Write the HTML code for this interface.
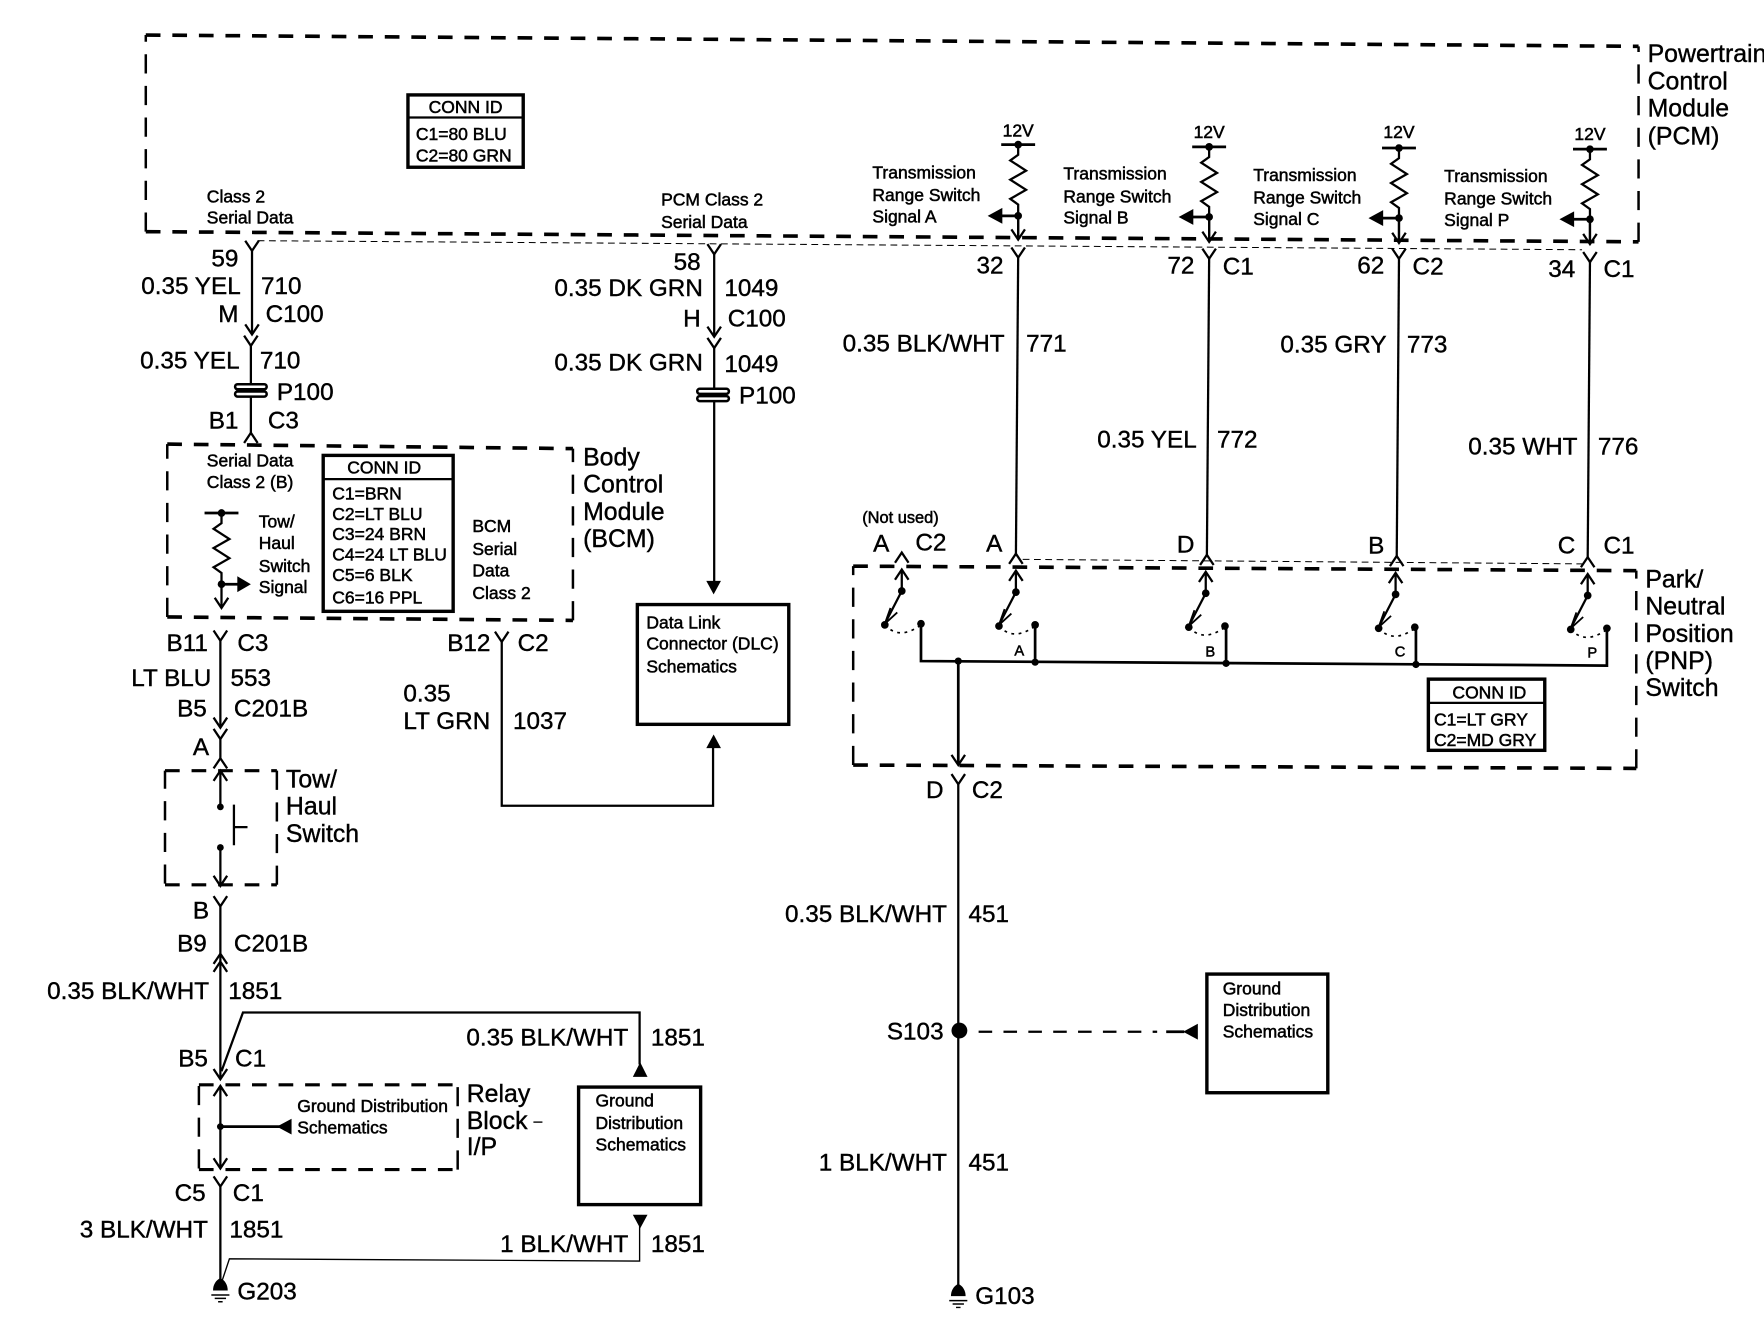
<!DOCTYPE html>
<html>
<head>
<meta charset="utf-8">
<style>
html,body{margin:0;padding:0;background:#fff;width:1764px;height:1328px;overflow:hidden}
svg{display:block}
text{font-family:"Liberation Sans",Arial,sans-serif;fill:#000;stroke:#000;stroke-width:.35}
.t{font-size:21.5px}
.e{font-size:21.5px;text-anchor:end}
.n{font-size:22px}
.s{font-size:15.5px;stroke-width:.45}
.m{font-size:15.5px;stroke-width:.45;text-anchor:middle}
.w{fill:none;stroke:#000;stroke-width:2}
.d{fill:none;stroke:#000;stroke-width:3.2;stroke-dasharray:13 10.5}
.dv{fill:none;stroke:#000;stroke-width:2.2;stroke-dasharray:17 11}
.th{fill:none;stroke:#000;stroke-width:.9;stroke-dasharray:6 4}
.b{fill:#fff;stroke:#000;stroke-width:3}
.k{fill:#000;stroke:none}
.sw{fill:none;stroke:#000;stroke-width:1.5;stroke-dasharray:2.5 4}
</style>
</head>
<body>
<svg width="1764" height="1328" viewBox="0 0 1561 1175.2" xmlns="http://www.w3.org/2000/svg">
<defs>
<path id="v" d="M-6 -9L0 0L6 -9" fill="none" stroke="#000" stroke-width="2"/>
<path id="h" d="M-6 9L0 0L6 9" fill="none" stroke="#000" stroke-width="2"/>
<g id="res">
<path d="M-15 0H15" fill="none" stroke="#000" stroke-width="2.4"/>
<circle r="3.4" fill="#000"/>
<path d="M0 0V9L-7 14L7 23L-7 31L7 40L-7 48L0 53V84" fill="none" stroke="#000" stroke-width="2"/>
</g>
<g id="cap">
<rect x="-14" y="-5" width="28" height="4.5" rx="2.2" fill="#fff" stroke="#000" stroke-width="2.2"/>
<rect x="-14" y="1.5" width="28" height="4.5" rx="2.2" fill="#fff" stroke="#000" stroke-width="2.2"/>
</g>
<g id="gnd">
<path d="M-6.500 5C-6.500 0 -4 -4 0 -6C4 -4 6.500 0 6.500 5Z" fill="#000"/>
<path d="M-8 9H8M-5 12H5M-2 15H2" stroke="#000" stroke-width="1.3" fill="none"/>
</g>
<g id="sws">
<use href="#h" y="3"/>
<path d="M0 3V22L-15 51" fill="none" stroke="#000" stroke-width="2"/>
<path d="M-10 37L-15 51L-4 41" fill="none" stroke="#000" stroke-width="1.6"/>
<circle cy="22" r="3.4" fill="#000"/>
<circle cx="-15" cy="52" r="3.4" fill="#000"/>
<path d="M-15 52Q-2 66 17 52" class="sw"/>
<circle cx="17" cy="51" r="3.4" fill="#000"/>
</g>
</defs>

<!-- PCM box -->
<path class="d" d="M129 31L1450 41M129 205L1450 214"/>
<path class="dv" d="M129 205V31M1450 214V41"/>
<path class="th" d="M228 213L1400 221"/>
<text class="n" x="1458" y="55">Powertrain</text>
<text class="n" x="1458" y="79">Control</text>
<text class="n" x="1458" y="103">Module</text>
<text class="n" x="1458" y="128">(PCM)</text>

<rect class="b" x="361" y="84" width="102" height="64"/>
<path d="M361 104H463" stroke="#000" stroke-width="2"/>
<text class="m" x="412" y="100">CONN ID</text>
<text class="s" x="368" y="124">C1=80 BLU</text>
<text class="s" x="368" y="143">C2=80 GRN</text>

<text class="s" x="183" y="179">Class 2</text>
<text class="s" x="183" y="198">Serial Data</text>
<text class="s" x="585" y="182">PCM Class 2</text>
<text class="s" x="585" y="202">Serial Data</text>

<!-- column 1 upper -->
<use href="#v" x="223" y="222"/>
<path class="w" d="M223 222V296"/>
<use href="#v" x="223" y="296"/>
<use href="#v" x="222" y="306"/>
<path class="w" d="M222 306V385"/>
<use href="#cap" x="222" y="345"/>
<use href="#h" x="222" y="383"/>
<text class="e" x="211" y="236">59</text>
<text class="e" x="213" y="260">0.35 YEL</text>
<text class="t" x="231" y="260">710</text>
<text class="e" x="211" y="285">M</text>
<text class="t" x="235" y="285">C100</text>
<text class="e" x="212" y="326">0.35 YEL</text>
<text class="t" x="230" y="326">710</text>
<text class="t" x="245" y="354">P100</text>
<text class="e" x="211" y="379">B1</text>
<text class="t" x="237" y="379">C3</text>

<!-- column 2 upper -->
<use href="#v" x="632" y="225"/>
<path class="w" d="M632 225V298"/>
<use href="#v" x="632" y="298"/>
<use href="#v" x="632" y="308"/>
<path class="w" d="M632 308V516"/>
<use href="#cap" x="631" y="349"/>
<path class="k" d="M625 514H638L631.500 526Z"/>
<text class="e" x="620" y="239">58</text>
<text class="e" x="622" y="262">0.35 DK GRN</text>
<text class="t" x="641" y="262">1049</text>
<text class="e" x="620" y="289">H</text>
<text class="t" x="644" y="289">C100</text>
<text class="e" x="622" y="328">0.35 DK GRN</text>
<text class="t" x="641" y="329">1049</text>
<text class="t" x="654" y="357">P100</text>

<!-- DLC -->
<rect class="b" x="564" y="535" width="134" height="106"/>
<text class="s" x="572" y="556">Data Link</text>
<text class="s" x="572" y="575">Connector (DLC)</text>
<text class="s" x="572" y="595">Schematics</text>
<path class="w" d="M444 568V713H631V660"/>
<path class="k" d="M625 662H638L631.500 650Z"/>
<use href="#v" x="444" y="568"/>
<text class="e" x="434" y="576">B12</text>
<text class="t" x="458" y="576">C2</text>
<text class="t" x="357" y="621">0.35</text>
<text class="t" x="357" y="645">LT GRN</text>
<text class="t" x="454" y="645">1037</text>

<!-- BCM -->
<path class="d" d="M148 393L507 397M148 546L507 549"/>
<path class="dv" d="M148 546V393M507 549V397"/>
<text class="n" x="516" y="412">Body</text>
<text class="n" x="516" y="436">Control</text>
<text class="n" x="516" y="460">Module</text>
<text class="n" x="516" y="484">(BCM)</text>
<text class="s" x="183" y="413">Serial Data</text>
<text class="s" x="183" y="432">Class 2 (B)</text>
<rect class="b" x="286" y="403" width="115" height="138"/>
<path d="M286 424H401" stroke="#000" stroke-width="2"/>
<text class="m" x="340" y="419">CONN ID</text>
<text class="s" x="294" y="442">C1=BRN</text>
<text class="s" x="294" y="460">C2=LT BLU</text>
<text class="s" x="294" y="478">C3=24 BRN</text>
<text class="s" x="294" y="496">C4=24 LT BLU</text>
<text class="s" x="294" y="514">C5=6 BLK</text>
<text class="s" x="294" y="534">C6=16 PPL</text>
<use href="#res" x="196" y="454"/>
<circle cx="196" cy="517" r="3.400" class="k"/>
<path d="M196 517H212" stroke="#000" stroke-width="2.4"/>
<path class="k" d="M210 510L222 517L210 524Z"/>
<use href="#v" x="196" y="538"/>
<text class="s" x="229" y="467">Tow/</text>
<text class="s" x="229" y="486">Haul</text>
<text class="s" x="229" y="506">Switch</text>
<text class="s" x="229" y="525">Signal</text>
<text class="s" x="418" y="471">BCM</text>
<text class="s" x="418" y="491">Serial</text>
<text class="s" x="418" y="510">Data</text>
<text class="s" x="418" y="530">Class 2</text>

<!-- column 1 lower -->
<use href="#v" x="195" y="567"/>
<path class="w" d="M195 567V644"/>
<use href="#v" x="195" y="644"/>
<use href="#v" x="195" y="654"/>
<path class="w" d="M195 654V672"/>
<use href="#h" x="195" y="671"/>
<text class="e" x="184" y="576">B11</text>
<text class="t" x="210" y="576">C3</text>
<text class="e" x="187" y="607">LT BLU</text>
<text class="t" x="204" y="607">553</text>
<text class="e" x="183" y="634">B5</text>
<text class="t" x="207" y="634">C201B</text>
<text class="e" x="185" y="668">A</text>

<!-- Tow/Haul switch -->
<path class="d" d="M146 682H245M146 783H245" style="stroke-width:2.8"/>
<path class="dv" d="M146 782V682M245 783V682"/>
<use href="#h" x="195" y="682"/>
<path class="w" d="M195 682V714M195 750V784"/>
<circle cx="195" cy="714" r="3" class="k"/>
<circle cx="195" cy="750" r="3" class="k"/>
<path class="w" d="M207 712V748M207 732H219"/>
<use href="#v" x="195" y="784"/>
<text class="n" x="253" y="697">Tow/</text>
<text class="n" x="253" y="721">Haul</text>
<text class="n" x="253" y="745">Switch</text>

<use href="#v" x="195" y="802"/>
<path class="w" d="M195 802V955"/>
<text class="e" x="185" y="813">B</text>
<text class="e" x="183" y="842">B9</text>
<text class="t" x="207" y="842">C201B</text>
<use href="#h" x="195" y="844"/>
<use href="#h" x="195" y="851"/>
<text class="e" x="185" y="884">0.35 BLK/WHT</text>
<text class="t" x="202" y="884">1851</text>
<path class="w" d="M196 948L215 896H566V942"/>
<path class="k" d="M560 953H573L566.500 940Z"/>
<text class="e" x="556" y="925">0.35 BLK/WHT</text>
<text class="t" x="576" y="925">1851</text>
<text class="e" x="184" y="944">B5</text>
<text class="t" x="208" y="944">C1</text>
<use href="#v" x="195" y="955"/>

<!-- Relay block -->
<path class="d" d="M176 960H405M176 1035H405" style="stroke-width:2.8"/>
<path class="dv" d="M176 1034V960M405 1035V960"/>
<use href="#h" x="195" y="961"/>
<path class="w" d="M195 961V1034"/>
<use href="#v" x="195" y="1034"/>
<circle cx="195" cy="997" r="3" class="k"/>
<path d="M195 997H248" stroke="#000" stroke-width="2.4"/>
<path class="k" d="M258 990L245 997L258 1004Z"/>
<text class="s" x="263" y="984">Ground Distribution</text>
<text class="s" x="263" y="1003">Schematics</text>
<text class="n" x="413" y="975">Relay</text>
<text class="n" x="413" y="999">Block</text>
<path d="M472 993H480" stroke="#000" stroke-width="1.2"/>
<text class="n" x="413" y="1022">I/P</text>

<!-- Ground dist left -->
<rect class="b" x="512" y="962" width="108" height="104"/>
<text class="s" x="527" y="979">Ground</text>
<text class="s" x="527" y="999">Distribution</text>
<text class="s" x="527" y="1018">Schematics</text>

<use href="#v" x="195" y="1050"/>
<path class="w" d="M195 1050V1138"/>
<text class="e" x="182" y="1063">C5</text>
<text class="t" x="206" y="1063">C1</text>
<text class="e" x="184" y="1095">3 BLK/WHT</text>
<text class="t" x="203" y="1095">1851</text>
<path class="k" d="M560 1075H573L566.500 1087Z"/>
<path d="M566 1085V1116L203 1114L196 1135" fill="none" stroke="#000" stroke-width="1.2"/>
<text class="e" x="556" y="1108">1 BLK/WHT</text>
<text class="t" x="576" y="1108">1851</text>
<use href="#gnd" x="195" y="1137"/>
<text class="t" x="210" y="1150">G203</text>

<!-- PCM signals -->
<use href="#res" x="901" y="128"/>
<use href="#res" x="1070" y="130"/>
<use href="#res" x="1238" y="131"/>
<use href="#res" x="1407" y="132"/>
<g>
<use href="#v" x="901" y="212"/><use href="#v" x="1070" y="214"/><use href="#v" x="1238" y="215"/><use href="#v" x="1407" y="216"/>
<circle cx="901" cy="191" r="3.400" class="k"/><circle cx="1070" cy="192" r="3.400" class="k"/><circle cx="1238" cy="193" r="3.400" class="k"/><circle cx="1407" cy="194" r="3.400" class="k"/>
<path d="M885 191H901M1054 192H1070M1222 193H1238M1391 194H1407" stroke="#000" stroke-width="2.4"/>
<path class="k" d="M887 184L874 191L887 198Z"/>
<path class="k" d="M1056 185L1043 192L1056 199Z"/>
<path class="k" d="M1224 186L1211 193L1224 200Z"/>
<path class="k" d="M1393 187L1380 194L1393 201Z"/>
</g>
<path class="w" d="M901 190V212M1070 192V214M1238 193V215M1407 194V216"/>
<text class="m" x="901" y="121">12V</text>
<text class="m" x="1070" y="122">12V</text>
<text class="m" x="1238" y="122">12V</text>
<text class="m" x="1407" y="124">12V</text>
<text class="s" x="772" y="158">Transmission</text>
<text class="s" x="772" y="178">Range Switch</text>
<text class="s" x="772" y="197">Signal A</text>
<text class="s" x="941" y="159">Transmission</text>
<text class="s" x="941" y="179">Range Switch</text>
<text class="s" x="941" y="198">Signal B</text>
<text class="s" x="1109" y="160">Transmission</text>
<text class="s" x="1109" y="180">Range Switch</text>
<text class="s" x="1109" y="199">Signal C</text>
<text class="s" x="1278" y="161">Transmission</text>
<text class="s" x="1278" y="181">Range Switch</text>
<text class="s" x="1278" y="200">Signal P</text>

<!-- vertical wires -->
<use href="#v" x="901" y="228"/><use href="#v" x="1070" y="229"/><use href="#v" x="1238" y="229"/><use href="#v" x="1407" y="232"/>
<path class="w" d="M901 228L899 492"/>
<path class="w" d="M1070 229L1068 492"/>
<path class="w" d="M1238 229L1236 493"/>
<path class="w" d="M1407 232L1405 494"/>
<text class="e" x="888" y="242">32</text>
<text class="e" x="1057" y="242">72</text>
<text class="t" x="1082" y="243">C1</text>
<text class="e" x="1225" y="242">62</text>
<text class="t" x="1250" y="243">C2</text>
<text class="e" x="1394" y="245">34</text>
<text class="t" x="1419" y="245">C1</text>
<text class="e" x="889" y="311">0.35 BLK/WHT</text>
<text class="t" x="908" y="311">771</text>
<text class="e" x="1227" y="312">0.35 GRY</text>
<text class="t" x="1245" y="312">773</text>
<text class="e" x="1059" y="396">0.35 YEL</text>
<text class="t" x="1077" y="396">772</text>
<text class="e" x="1396" y="402">0.35 WHT</text>
<text class="t" x="1414" y="402">776</text>

<!-- PNP -->
<path class="th" d="M905 495L1400 499"/>
<use href="#h" x="798" y="489"/><use href="#h" x="899" y="490"/><use href="#h" x="1068" y="491"/><use href="#h" x="1236" y="492"/><use href="#h" x="1405" y="493"/>
<text x="763" y="463" style="font-size:14.500px;stroke-width:.45">(Not used)</text>
<text class="e" x="787" y="488">A</text>
<text class="t" x="810" y="487">C2</text>
<text class="e" x="887" y="488">A</text>
<text class="e" x="1057" y="489">D</text>
<text class="e" x="1225" y="490">B</text>
<text class="e" x="1394" y="490">C</text>
<text class="t" x="1419" y="490">C1</text>
<path class="d" d="M755 501L1448 505M755 677L1448 680"/>
<path class="dv" d="M755 677V501M1448 680V505"/>
<text class="n" x="1456" y="520">Park/</text>
<text class="n" x="1456" y="544">Neutral</text>
<text class="n" x="1456" y="568">Position</text>
<text class="n" x="1456" y="592">(PNP)</text>
<text class="n" x="1456" y="616">Switch</text>

<use href="#sws" x="798" y="501"/>
<use href="#sws" x="899" y="502"/>
<use href="#sws" x="1067" y="503"/>
<use href="#sws" x="1235" y="504"/>
<use href="#sws" x="1405" y="505"/>
<path d="M815 552V585L1422 589V556" fill="none" stroke="#000" stroke-width="2.400"/>
<path d="M916 553V586M1085 554V587M1253 555V588" fill="none" stroke="#000" stroke-width="2.400"/>
<circle cx="848" cy="585" r="3.200" class="k"/><circle cx="916" cy="586" r="3.200" class="k"/><circle cx="1085" cy="587" r="3.200" class="k"/><circle cx="1253" cy="588" r="3.200" class="k"/>
<text x="902" y="580" class="m" style="font-size:13px">A</text>
<text x="1071" y="581" class="m" style="font-size:13px">B</text>
<text x="1239" y="581" class="m" style="font-size:13px">C</text>
<text x="1409" y="582" class="m" style="font-size:13px">P</text>

<rect class="b" x="1264" y="601" width="103" height="63"/>
<path d="M1264 622H1367" stroke="#000" stroke-width="2"/>
<text class="m" x="1318" y="618">CONN ID</text>
<text class="s" x="1269" y="642">C1=LT GRY</text>
<text class="s" x="1269" y="660">C2=MD GRY</text>

<!-- ground wire -->
<path class="w" d="M848 585V676" style="stroke-width:2.400"/>
<use href="#v" x="848" y="677"/>
<use href="#v" x="848" y="694"/>
<path class="w" d="M848 694V1140"/>
<text class="e" x="835" y="706">D</text>
<text class="t" x="860" y="706">C2</text>
<text class="e" x="838" y="816">0.35 BLK/WHT</text>
<text class="t" x="857" y="816">451</text>
<circle cx="849" cy="912" r="7" class="k"/>
<text class="e" x="835" y="920">S103</text>
<path d="M866 913H1024" fill="none" stroke="#000" stroke-width="2" stroke-dasharray="12 10"/>
<path d="M1032 913H1048" stroke="#000" stroke-width="2.400"/>
<path class="k" d="M1060 906L1047 913L1060 920Z"/>
<text class="e" x="838" y="1036">1 BLK/WHT</text>
<text class="t" x="857" y="1036">451</text>
<use href="#gnd" x="848" y="1142"/>
<text class="t" x="863" y="1154">G103</text>

<rect class="b" x="1068" y="862" width="107" height="105"/>
<text class="s" x="1082" y="880">Ground</text>
<text class="s" x="1082" y="899">Distribution</text>
<text class="s" x="1082" y="918">Schematics</text>
</svg>
</body>
</html>
